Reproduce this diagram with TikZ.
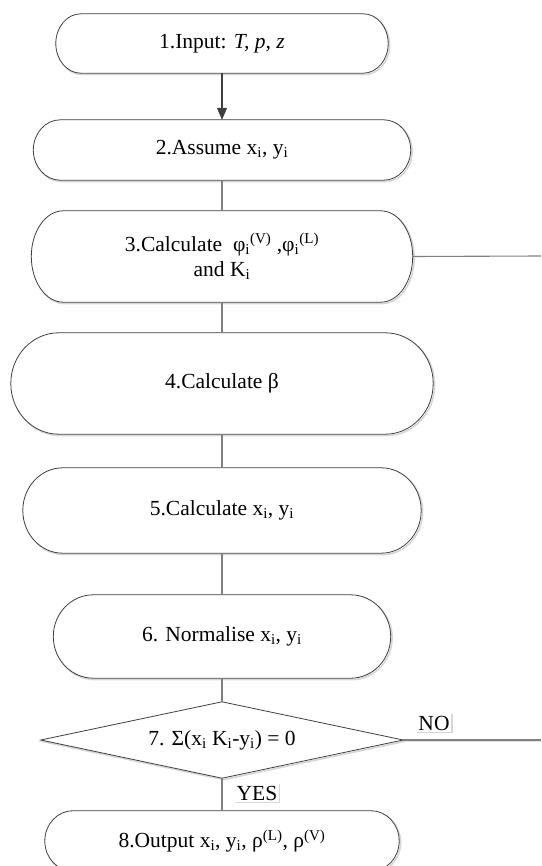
\documentclass[tikz,border=0pt]{standalone}
\usepackage{fontspec}
\setmainfont{Liberation Serif}
\usetikzlibrary{arrows.meta,calc}
\pgfdeclarelayer{background}
\pgfsetlayers{background,main}

\definecolor{edge}{HTML}{3F3F3F}
\definecolor{link}{HTML}{808080}
\definecolor{shade}{HTML}{D6D6D6}

\newcommand\sbi{\textsubscript{i}}

% terminator outline with elliptic ends: #1 node name, #2 horizontal end radius
\newcommand\terminal[2]{%
  \begin{pgfonlayer}{background}
    \foreach \st in {shadowline,outline}{
      \draw[\st] let \p1=(#1.north west), \p2=(#1.south east), \n1={(\y1-\y2)/2} in
        (\x1+#2,\y1) -- (\x2-#2,\y1)
        arc[start angle=90,end angle=-90,x radius=#2,y radius=\n1]
        -- (\x1+#2,\y2)
        arc[start angle=270,end angle=90,x radius=#2,y radius=\n1] -- cycle;
    }
  \end{pgfonlayer}}

\tikzset{
  x=1pt,y=1pt,
  outline/.style={draw=edge,line width=0.8pt,fill=white},
  shadowline/.style={draw=shade,line width=1.6pt,transform canvas={xshift=1.4pt,yshift=-1.4pt}},
  stage/.style={draw=none,inner sep=0pt,align=center,
    font=\fontsize{21.5}{25}\selectfont},
  link/.style={draw=link,line width=1.1pt},
  tag/.style={fill=white,inner sep=1.5pt,font=\fontsize{21.5}{25}\selectfont},
}

\begin{document}
\begin{tikzpicture}
\useasboundingbox (0,0) rectangle (541,-866);
\clip (0,0) rectangle (541,-866);

% process stages
\node[stage,minimum width=332,minimum height=59]  (s1) at (222,-43.5) {1.Input: \textit{T, p, z}};
\node[stage,minimum width=377,minimum height=60]  (s2) at (222,-150)  {2.Assume x\sbi, y\sbi};
\node[stage,minimum width=381,minimum height=91]  (s3) at (222,-256.5) {3.Calculate\ \ φ\sbi\textsuperscript{(V)} ,φ\sbi\textsuperscript{(L)}\\and K\sbi};
\node[stage,minimum width=422,minimum height=101] (s4) at (222,-383.5) {4.Calculate β};
\node[stage,minimum width=398,minimum height=85]  (s5) at (222,-510.5) {5.Calculate x\sbi, y\sbi};
\node[stage,minimum width=337,minimum height=83]  (s6) at (222,-636.5) {6. Normalise x\sbi, y\sbi};
\node[stage,minimum width=362,minimum height=76]  (s7) at (222,-740)   {7. Σ(x\sbi\ K\sbi-y\sbi) = 0};
\node[stage,minimum width=354,minimum height=60]  (s8) at (222,-841)   {8.Output x\sbi, y\sbi, ρ\textsuperscript{(L)}, ρ\textsuperscript{(V)}};

\terminal{s1}{25pt}
\terminal{s2}{27pt}
\terminal{s3}{32pt}
\terminal{s4}{48pt}
\terminal{s5}{40pt}
\terminal{s6}{40pt}
\terminal{s8}{28pt}

% decision diamond
\begin{pgfonlayer}{background}
  \foreach \st in {shadowline,outline}
    \draw[\st] (s7.north) -- (s7.east) -- (s7.south) -- (s7.west) -- cycle;
\end{pgfonlayer}

% connectors
\coordinate (r3) at (541,-256);
\coordinate (r7) at (541,-740);

\draw[draw=edge,line width=1.1pt,-{Triangle[length=12pt,width=10pt]}] (s1.south) -- (s2.north);
\draw[link] (s2.south) -- (s3.north);
\draw[link] (s3.south) -- (s4.north);
\draw[link] (s4.south) -- (s5.north);
\draw[link] (s5.south) -- (s6.north);
\draw[link] (s6.south) -- (s7.north);
\draw[link] (s7.south) -- (s8.north);
\draw[link] (s3.east) -- (r3);
\draw[shadowline,draw=shade!70] (s7.east) -- (r7);
\draw[link] (s7.east) -- (r7);

% branch labels
\node[tag] (no)  at (434,-723) {NO};
\node[tag] (yes) at (257,-793) {YES};
\foreach \t in {no,yes}
  \draw[draw=shade,line width=1.4pt] ([xshift=0.7pt]\t.north east) -- ([xshift=0.7pt,yshift=-0.7pt]\t.south east) -- ([yshift=-0.7pt]\t.south west);
\end{tikzpicture}
\end{document}
